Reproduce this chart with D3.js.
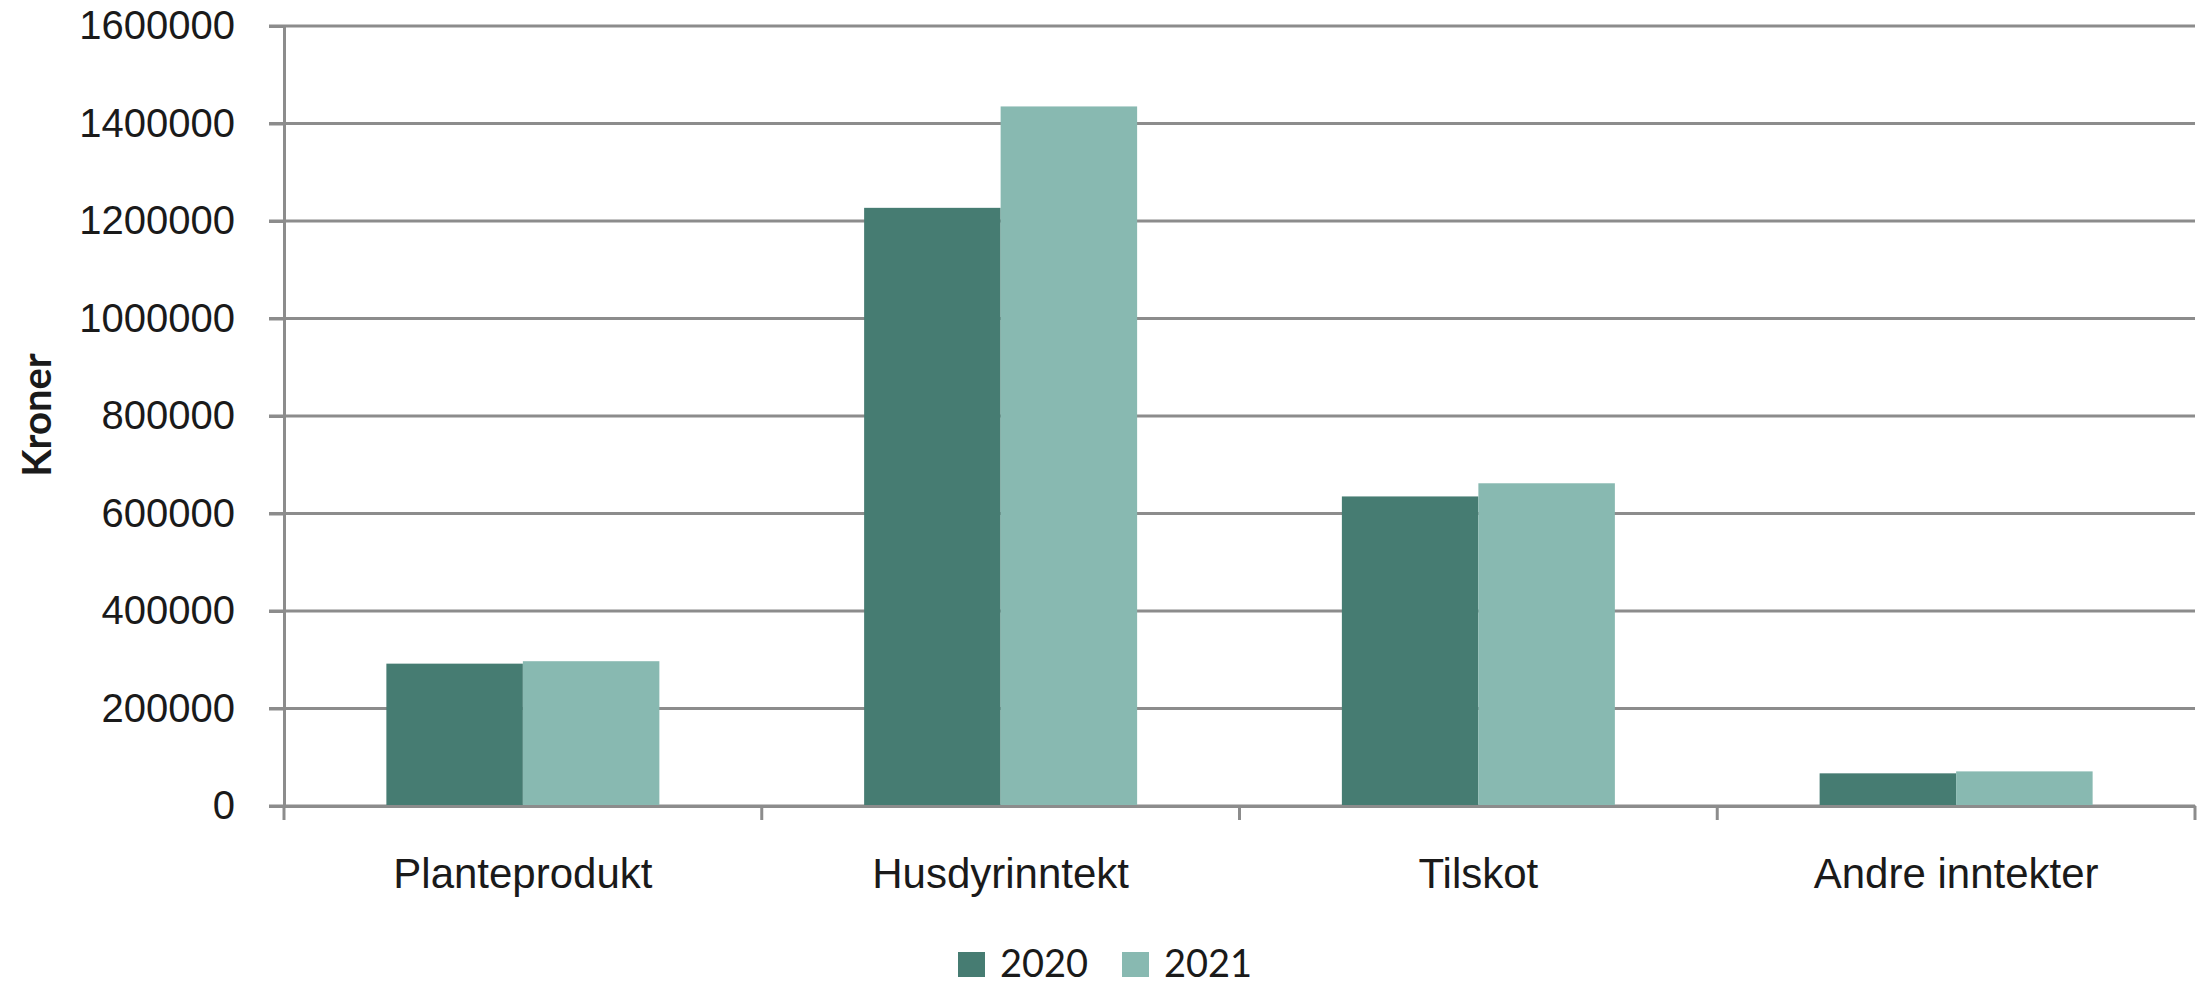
<!DOCTYPE html>
<html>
<head>
<meta charset="utf-8">
<script src="https://d3js.org/d3.v7.min.js"></script>
<style>
  body { margin: 0; background: #fff; }
  svg { display: block; font-family: Lato, "Open Sans", sans-serif; }
</style>
</head>
<body>
<div id="chart"></div>
<script>
// data
var categories = ['Planteprodukt', 'Husdyrinntekt', 'Tilskot', 'Andre inntekter'];
var years = ['2020', '2021'];
var values2020 = [292000, 1227000, 635000, 67000];
var values2021 = [297000, 1435000, 662000, 71000];
var yTicks = [0, 200000, 400000, 600000, 800000, 1000000, 1200000, 1400000, 1600000];

var year_colors = {'2020': '#467C72', '2021': '#88B9B1'};
var grid_color = '#8C8C8C';

var data = categories.map(function(c, i) {
    return {category: c, values: [
        {year: '2020', value: values2020[i]},
        {year: '2021', value: values2021[i]}
    ]};
});

var W = 2209, H = 984;
var margin = {top: 26, right: 14, bottom: 178, left: 284};
var width = W - margin.left - margin.right;
var height = H - margin.top - margin.bottom;

var svg = d3.select('#chart').append('svg')
    .attr('width', W)
    .attr('height', H)
    .append('g')
    .attr('transform', 'translate(' + margin.left + ',' + margin.top + ')');

var x0 = d3.scaleBand().domain(categories).range([0, width]).padding(0);
var x1 = d3.scaleBand().domain(years).range([0, x0.bandwidth()])
    .paddingInner(0).paddingOuter(0.75);
var y = d3.scaleLinear().domain([0, 1600000]).range([height, 0]);

// horizontal gridlines (with the small outward tick)
svg.append('g')
    .selectAll('line')
    .data(yTicks)
    .enter().append('line')
    .attr('x1', -15)
    .attr('x2', width)
    .attr('y1', function(d) { return y(d); })
    .attr('y2', function(d) { return y(d); })
    .attr('stroke', grid_color)
    .attr('stroke-width', 3);

// y axis
var yAxis = svg.append('g')
    .call(d3.axisLeft(y).tickValues(yTicks).tickSize(15).tickPadding(34)
        .tickFormat(d3.format('d')));
yAxis.select('.domain').attr('stroke', grid_color).attr('stroke-width', 3);
yAxis.selectAll('.tick line').attr('stroke', grid_color).attr('stroke-width', 3);
yAxis.selectAll('.tick text')
    .style('font-size', '40px')
    .attr('fill', '#1a1a1a');

// bars
var groups = svg.selectAll('.group')
    .data(data)
    .enter().append('g')
    .attr('class', 'group')
    .attr('transform', function(d) { return 'translate(' + x0(d.category) + ',0)'; });

groups.selectAll('rect')
    .data(function(d) { return d.values; })
    .enter().append('rect')
    .attr('x', function(d) { return x1(d.year); })
    .attr('width', x1.bandwidth())
    .attr('y', function(d) { return y(d.value); })
    .attr('height', function(d) { return height - y(d.value); })
    .attr('fill', function(d) { return year_colors[d.year]; });

// x axis
var xAxis = svg.append('g')
    .attr('transform', 'translate(0,' + height + ')')
    .call(d3.axisBottom(x0).tickSize(0).tickPadding(52));
xAxis.select('.domain').attr('stroke', grid_color).attr('stroke-width', 3);
xAxis.selectAll('.tick text')
    .style('font-size', '42px')
    .attr('fill', '#1a1a1a');

// boundary ticks between categories
var bounds = [0].concat(categories.map(function(c) { return x0(c) + x0.bandwidth(); }));
svg.append('g')
    .selectAll('line')
    .data(bounds)
    .enter().append('line')
    .attr('x1', function(d) { return d; })
    .attr('x2', function(d) { return d; })
    .attr('y1', height)
    .attr('y2', height + 14)
    .attr('stroke', grid_color)
    .attr('stroke-width', 3);

// y label
svg.append('text')
    .attr('transform', 'translate(' + (51 - margin.left) + ',' + (415 - margin.top) + ') rotate(-90)')
    .attr('text-anchor', 'middle')
    .style('font-size', '40px')
    .style('font-weight', 'bold')
    .attr('fill', '#1a1a1a')
    .text('Kroner');

// legend
var legend = svg.append('g')
    .attr('transform', 'translate(' + (958 - margin.left) + ',' + (952 - margin.top) + ')');
years.forEach(function(yr, i) {
    legend.append('rect')
        .attr('x', 164 * i)
        .attr('y', 0)
        .attr('width', 27)
        .attr('height', 25)
        .attr('fill', year_colors[yr]);
    legend.append('text')
        .attr('x', 164 * i + 42)
        .attr('y', 25)
        .style('font-size', '38px')
        .attr('fill', '#1a1a1a')
        .text(yr);
});
</script>
</body>
</html>
